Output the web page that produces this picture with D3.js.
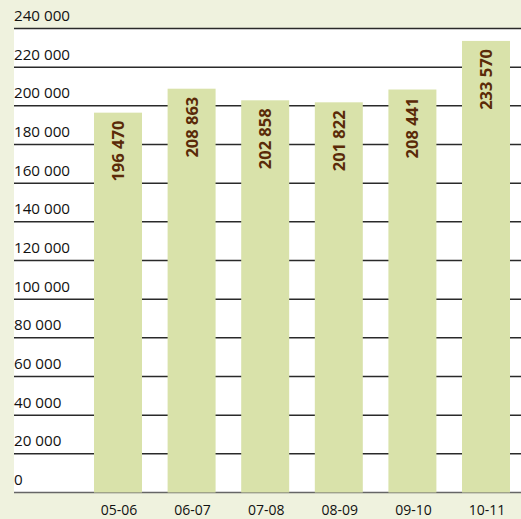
<!DOCTYPE html>
<html>
<head>
<meta charset="utf-8">
<script src="https://cdn.jsdelivr.net/npm/d3@7"></script>
<style>
  body { margin: 0; background: #eff2de; }
  svg { display: block; }
</style>
</head>
<body>
<svg id="chart"></svg>
<script>
const categories = ["05-06", "06-07", "07-08", "08-09", "09-10", "10-11"];
const values = [196470, 208863, 202858, 201822, 208441, 233570];
const yTicks = [0, 20000, 40000, 60000, 80000, 100000, 120000, 140000, 160000, 180000, 200000, 220000, 240000];

const width = 521, height = 519;
const plotLeft = 14, plotTop = 28.5, plotBottom = 492.5;

const svg = d3.select("#chart")
  .attr("width", width)
  .attr("height", height);

svg.append("rect")
  .attr("width", width).attr("height", height)
  .attr("fill", "#eff2de");

const x = d3.scaleBand()
  .domain(categories)
  .range([94, 510])
  .paddingInner(0.348)
  .paddingOuter(0);

const y = d3.scaleLinear()
  .domain([0, 240000])
  .range([plotBottom, plotTop]);

const fmt = d => d3.format(",")(d).replace(/,/g, " ");

// white plot area
svg.append("rect")
  .attr("x", plotLeft).attr("y", y(240000))
  .attr("width", width - plotLeft).attr("height", y(0) - y(240000))
  .attr("fill", "#ffffff");

// gridlines + labels
const grid = svg.append("g");
grid.selectAll("line")
  .data(yTicks)
  .enter().append("line")
  .attr("x1", plotLeft).attr("x2", width)
  .attr("y1", d => y(d)).attr("y2", d => y(d))
  .attr("stroke", d => d === 0 ? "#666" : "#2a2a2a")
  .attr("stroke-width", 1.5);

grid.selectAll("text")
  .data(yTicks)
  .enter().append("text")
  .attr("x", plotLeft)
  .attr("y", d => y(d) - 7.5)
  .attr("font-family", "'Open Sans', sans-serif")
  .attr("font-size", 15.2)
  .attr("fill", "#111")
  .text(fmt);

// bars
svg.selectAll(".bar")
  .data(values)
  .enter().append("rect")
  .attr("class", "bar")
  .attr("x", (d, i) => x(categories[i]))
  .attr("y", d => y(d))
  .attr("width", x.bandwidth())
  .attr("height", d => y(0) - y(d))
  .attr("fill", "#d9e2aa");

// value labels
svg.selectAll(".val")
  .data(values)
  .enter().append("text")
  .attr("class", "val")
  .attr("transform", (d, i) => "translate(" + (x(categories[i]) + x.bandwidth() / 2 + 6) + "," + (y(d) + 8) + ") rotate(-90)")
  .attr("text-anchor", "end")
  .attr("font-family", "'Open Sans', sans-serif")
  .attr("font-weight", "bold")
  .attr("font-size", 16.5)
  .attr("fill", "#5a2a08")
  .text(fmt);

// x labels
svg.selectAll(".cat")
  .data(categories)
  .enter().append("text")
  .attr("class", "cat")
  .attr("x", d => x(d) + x.bandwidth() / 2 + 1)
  .attr("y", 515)
  .attr("text-anchor", "middle")
  .attr("font-family", "'Open Sans', sans-serif")
  .attr("font-size", 14)
  .attr("fill", "#111")
  .text(d => d);
</script>
</body>
</html>
